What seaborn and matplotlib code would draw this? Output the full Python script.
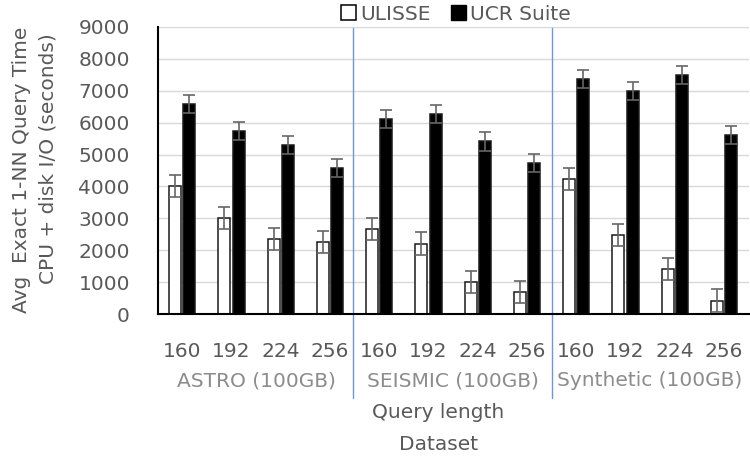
import pandas as pd
import matplotlib
matplotlib.use("Agg")
import matplotlib.pyplot as plt
import matplotlib.transforms as mtransforms
from matplotlib.patches import Patch
import seaborn as sns

# data
datasets = ["ASTRO (100GB)", "SEISMIC (100GB)", "Synthetic (100GB)"]
query_lengths = ["160", "192", "224", "256"]
ulisse_time = [4010, 3020, 2350, 2270,
               2660, 2210, 1020, 690,
               4230, 2480, 1410, 430]
ucr_time = [6590, 5730, 5300, 4570,
            6120, 6280, 5410, 4730,
            7360, 6990, 7490, 5600]
ulisse_err = 350
ucr_err = 285

sns.set_theme(style="white")
plt.rcParams["font.family"] = ["DejaVu Sans"]
FS = 14.5
TXT = "#595959"

cats = [f"{d}|{q}" for d in datasets for q in query_lengths]
df = pd.DataFrame({
    "cat": cats * 2,
    "time": ulisse_time + ucr_time,
    "method": ["ULISSE"] * len(cats) + ["UCR Suite"] * len(cats),
})

fig = plt.figure(figsize=(7.5, 4.63), dpi=100)
W, H = 750, 463
left, right, top, bottom = 157.7, 748.6, 26.7, 314.3
ax = fig.add_axes([left / W, 1 - bottom / H, (right - left) / W, (bottom - top) / H])

sns.barplot(data=df, x="cat", y="time", hue="method", order=cats,
            hue_order=["ULISSE", "UCR Suite"],
            palette={"ULISSE": "white", "UCR Suite": "black"},
            width=0.58, gap=0.16, errorbar=None,
            edgecolor="#1a1a1a", linewidth=1.1, ax=ax, legend=False)

# error bars on top of the drawn bars
for cont, err in zip(ax.containers, [ulisse_err, ucr_err]):
    xs = [b.get_x() + b.get_width() / 2 for b in cont]
    ys = [b.get_height() for b in cont]
    ax.errorbar(xs, ys, yerr=err, fmt="none", ecolor="#666666",
                elinewidth=1.2, capsize=4, capthick=1.2, zorder=5)

ax.set_xlim(-0.5, len(cats) - 0.5)
ax.set_ylim(0, 9000)
ax.set_yticks(range(0, 9001, 1000))
ax.set_xticks(range(len(cats)), query_lengths * len(datasets))
ax.tick_params(axis="both", length=0, labelsize=FS, labelcolor=TXT)
ax.tick_params(axis="y", pad=20)
ax.tick_params(axis="x", pad=20)
ax.yaxis.grid(True, color="#d9d9d9", linewidth=1)
ax.set_axisbelow(True)
for s in ["top", "right"]:
    ax.spines[s].set_visible(False)
for s in ["left", "bottom"]:
    ax.spines[s].set_color("black")
    ax.spines[s].set_linewidth(1.5)
ax.set_xlabel("")

# group labels and axis titles below the ticks
trans = mtransforms.blended_transform_factory(ax.transData, ax.transAxes)
def ay(px):
    return (bottom - px) / (bottom - top)

for i, d in enumerate(datasets):
    ax.text(i * 4 + 1.5, ay(381), d, transform=trans, ha="center", va="center",
            fontsize=FS, color="#8c8c8c")
ax.text(5.2, ay(412), "Query length", transform=trans, ha="center", va="center",
        fontsize=FS, color=TXT)
ax.text(5.2, ay(445), "Dataset", transform=trans, ha="center", va="center",
        fontsize=FS, color=TXT)

# blue separators between datasets
for xb in [3.46, 7.5]:
    ax.plot([xb, xb], [ay(28), ay(398)], transform=trans, color="#6f96d8",
            linewidth=1, clip_on=False, zorder=1)

ax.set_ylabel("Avg  Exact 1-NN Query Time\nCPU + disk I/O (seconds) ",
              fontsize=FS, color=TXT, linespacing=1.5)
ax.yaxis.label.set(rotation_mode="default", va="center", ha="center",
                   multialignment="right")
ax.yaxis.set_label_coords((35 - left) / (right - left), ay(170))

handles = [Patch(facecolor="white", edgecolor="black", linewidth=1.1, label="ULISSE"),
           Patch(facecolor="black", edgecolor="black", label="UCR Suite")]
ax.legend(handles=handles, loc="center", bbox_to_anchor=(0.505, ay(14)),
          ncol=2, frameon=False, fontsize=FS, labelcolor=TXT,
          handlelength=0.75, handleheight=0.75, handletextpad=0.2,
          columnspacing=1.0, borderaxespad=0)

fig.savefig("out.png", dpi=100)
